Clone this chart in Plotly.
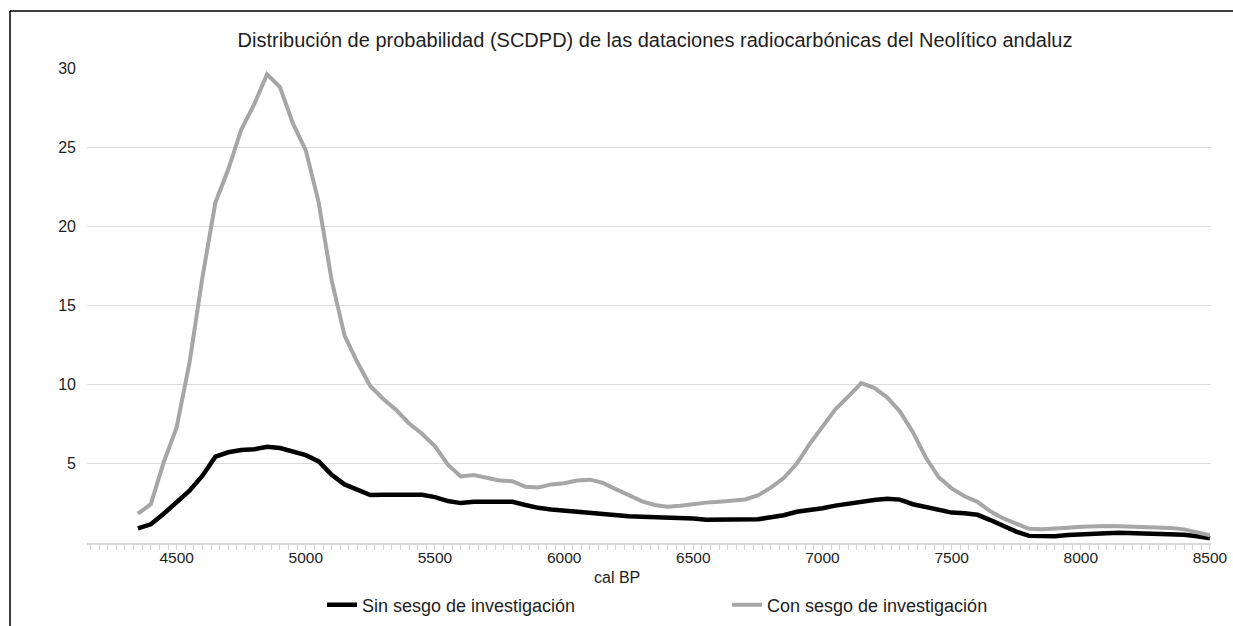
import plotly.graph_objects as go

years = list(range(4350, 8501, 50))

sin_sesgo = [0.93, 1.18, 1.85, 2.6, 3.3, 4.25, 5.45, 5.73, 5.87, 5.92,
             6.08, 6.0, 5.75, 5.55, 5.15, 4.3, 3.7, 3.35, 3.03, 3.04,
             3.06, 3.02, 3.05, 2.9, 2.65, 2.52, 2.61, 2.6, 2.57, 2.6,
             2.4, 2.22, 2.12, 2.04, 2.03, 1.95, 1.85, 1.72, 1.69, 1.66,
             1.64, 1.62, 1.58, 1.55, 1.47, 1.48, 1.5, 1.48, 1.5, 1.62,
             1.75, 1.97, 2.05, 2.2, 2.36, 2.5, 2.6, 2.72, 2.79, 2.74,
             2.45, 2.25, 2.05, 1.92, 1.88, 1.78, 1.45, 1.1, 0.72, 0.45,
             0.42, 0.42, 0.5, 0.56, 0.6, 0.62, 0.64, 0.62, 0.6, 0.59,
             0.56, 0.52, 0.43, 0.3]

con_sesgo = [1.85, 2.45, 5.1, 7.3, 11.4, 16.8, 21.5, 23.6, 26.1, 27.7,
             29.6, 28.8, 26.5, 24.8, 21.5, 16.6, 13.1, 11.4, 9.9, 9.1,
             8.4, 7.55, 6.9, 6.1, 4.95, 4.2, 4.3, 4.1, 3.95, 3.9,
             3.55, 3.5, 3.7, 3.78, 3.95, 4.0, 3.8, 3.4, 3.0, 2.65,
             2.4, 2.29, 2.35, 2.48, 2.55, 2.61, 2.68, 2.75, 3.0, 3.5,
             4.1, 5.0, 6.25, 7.4, 8.45, 9.25, 10.1, 9.8, 9.2, 8.3,
             7.0, 5.4, 4.15, 3.45, 2.95, 2.6, 2.0, 1.55, 1.22, 0.9,
             0.87, 0.9, 0.97, 1.03, 1.08, 1.08, 1.06, 1.04, 1.01, 0.99,
             0.95, 0.86, 0.7, 0.49]

x_ticks = [4500, 5000, 5500, 6000, 6500, 7000, 7500, 8000, 8500]
y_ticks = [5, 10, 15, 20, 25, 30]

title_text = "Distribución de probabilidad (SCDPD) de las dataciones radiocarbónicas del Neolítico andaluz"
x_title = "cal BP"
names = ["Sin sesgo de investigación", "Con sesgo de investigación"]

FONT = "Liberation Sans, Arial, sans-serif"
TXT = "#1e1e1e"

fig = go.Figure()
fig.add_trace(go.Scatter(x=years, y=sin_sesgo, mode="lines", name=names[0],
                         line=dict(color="#000000", width=4.5)))
fig.add_trace(go.Scatter(x=years, y=con_sesgo, mode="lines", name=names[1],
                         line=dict(color="#a6a6a6", width=4)))

W, H = 1233, 626
L, R, T, B = 87, 22, 68, 83
PW, PH = W - L - R, H - T - B

fig.update_layout(
    width=W, height=H,
    margin=dict(l=L, r=R, t=T, b=B, pad=0, autoexpand=False),
    paper_bgcolor="white", plot_bgcolor="white",
    font=dict(family=FONT, color=TXT, size=15),
    title=dict(text=title_text, font=dict(size=20, color=TXT),
               x=655 / W, xref="container", xanchor="center",
               y=1 - 40 / H, yref="container", yanchor="middle"),
    showlegend=True,
    legend=dict(orientation="h", xref="container", x=322 / W, xanchor="left",
                yref="container", y=1 - 605 / H, yanchor="middle",
                font=dict(size=18, color=TXT),
                entrywidth=360, entrywidthmode="pixels",
                bgcolor="rgba(0,0,0,0)"),
    xaxis=dict(range=[4153, 8504], tickvals=x_ticks, showgrid=False,
               showline=True, linecolor="#d9d9d9", linewidth=1.5,
               ticks="outside", ticklen=5, tickcolor="#d9d9d9",
               minor=dict(dtick=500 / 15, tick0=4500, ticks="outside", ticklen=5,
                          tickcolor="#d9d9d9", showgrid=False),
               tickfont=dict(size=15.5, color=TXT), ticklabelstandoff=-5,
               zeroline=False),
    yaxis=dict(range=[0, 30], tickvals=y_ticks, showgrid=True, gridcolor="#dcdcdc",
               gridwidth=1.2, showline=False, zeroline=False, ticks="",
               ticklabelstandoff=10, tickfont=dict(size=16, color=TXT)),
    annotations=[dict(text=x_title, xref="paper", yref="paper",
                      x=(617 - L) / PW, y=(543 - 577) / PH,
                      xanchor="center", yanchor="middle", showarrow=False,
                      font=dict(size=16, color=TXT))],
)

# outer frame (top and left edges)
fig.add_shape(type="line", xref="paper", yref="paper",
              x0=(10 - L) / PW, x1=(W + 5 - L) / PW,
              y0=(543 - 11) / PH, y1=(543 - 11) / PH,
              line=dict(color="#000000", width=1.5))
fig.add_shape(type="line", xref="paper", yref="paper",
              x0=(10 - L) / PW, x1=(10 - L) / PW,
              y0=(543 - 11) / PH, y1=(543 - H - 5) / PH,
              line=dict(color="#000000", width=1.5))

fig.write_html("out.html", config={"displayModeBar": False},
               post_script="document.body.style.margin='0px';document.body.style.padding='0px';")
